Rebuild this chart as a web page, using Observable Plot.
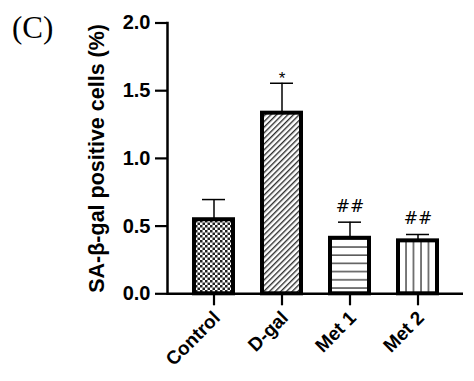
<!DOCTYPE html>
<html>
<head>
<meta charset="utf-8">
<script src="https://cdn.jsdelivr.net/npm/d3@7"></script>
<script src="https://cdn.jsdelivr.net/npm/@observablehq/plot@0.6"></script>
<style>
  html, body { margin: 0; padding: 0; background: #fff; }
  #wrap { position: relative; width: 474px; height: 381px; }
  #panel { position: absolute; left: 12px; top: 12px; font-family: "Liberation Serif", "Times New Roman", serif; font-size: 31px; line-height: 1; }
</style>
</head>
<body>
<div id="wrap"><div id="panel">(C)</div><div id="chart"></div></div>
<script>
const categories = ["Control", "D-gal", "Met 1", "Met 2"];
const means = [0.547, 1.334, 0.41, 0.391];
const errTops = [0.696, 1.555, 0.529, 0.438];
const marks = ["", "*", "##", "##"];
const patterns = ["p-check", "p-diag", "p-horiz", "p-vert"];
const yTicks = [0, 0.5, 1.0, 1.5, 2.0];
const yLabel = "SA-β-gal positive cells (%)";

const data = categories.map((c, i) => ({
  cat: c, mean: means[i], err: errTops[i], mark: marks[i], fill: `url(#${patterns[i]})`
}));

const font = "Liberation Sans, Arial, sans-serif";

const chart = Plot.plot({
  width: 474,
  height: 381,
  marginLeft: 167,
  marginRight: 11,
  marginTop: 22.5,
  marginBottom: 87.7,
  style: { fontFamily: font, background: "white", overflow: "visible" },
  x: { domain: categories, paddingInner: 0.37, paddingOuter: 0.35 },
  y: { domain: [0, 2] },
  color: { type: "identity" },
  marks: [
    Plot.barY(data, {
      x: "cat", y: "mean", fill: "fill",
      stroke: "black", strokeWidth: 4,
      insetLeft: 2, insetRight: 2
    }),
    Plot.ruleX(data, { x: "cat", y1: "mean", y2: "err", stroke: "black", strokeWidth: 1.5 }),
    Plot.tickY(data, { x: "cat", y: "err", stroke: "black", strokeWidth: 1.5, insetLeft: 10, insetRight: 10 }),
    Plot.text(data.filter(d => d.mark === "*"), {
      x: "cat", y: "err", text: "mark", fontSize: 17, dy: -5, fill: "black"
    }),
    Plot.text(data.filter(d => d.mark === "##"), {
      x: "cat", y: "err", text: "mark", fontSize: 17, dy: -16, fill: "black",
      fontFamily: "DejaVu Sans, sans-serif"
    }),
    Plot.axisY({
      ticks: yTicks, tickFormat: d3.format(".1f"), tickSize: 12, tickPadding: 5,
      strokeWidth: 2.2, fontSize: 20, fontWeight: "bold", label: null
    }),
    Plot.frame({ anchor: "left", strokeWidth: 2.5 }),
    Plot.ruleY([0], { strokeWidth: 2.5 }),
    Plot.axisX({
      tickSize: 12, strokeWidth: 2.2, tickRotate: -45, tickPadding: 5,
      fontSize: 19, fontWeight: "bold", label: null, text: null
    }),
    Plot.axisX({
      tickSize: 0, tickRotate: -45, tickPadding: 17, dx: 3, dy: 4,
      fontSize: 19, fontWeight: "bold", label: null
    }),
    Plot.text([yLabel], {
      frameAnchor: "left", textAnchor: "middle", dx: -70, dy: 0, rotate: -90,
      fontSize: 21.5, fontWeight: "bold", fill: "black"
    })
  ]
});

const svg = d3.select(chart);
const defs = svg.insert("defs", ":first-child");
// checkerboard
const pc = defs.append("pattern").attr("id", "p-check").attr("patternUnits", "userSpaceOnUse")
  .attr("width", 5).attr("height", 5);
pc.append("rect").attr("width", 5).attr("height", 5).attr("fill", "white");
pc.append("rect").attr("width", 2.5).attr("height", 2.5).attr("fill", "#222");
pc.append("rect").attr("x", 2.5).attr("y", 2.5).attr("width", 2.5).attr("height", 2.5).attr("fill", "#222");
// diagonal
const pd = defs.append("pattern").attr("id", "p-diag").attr("patternUnits", "userSpaceOnUse")
  .attr("width", 4).attr("height", 4).attr("patternTransform", "rotate(45)");
pd.append("rect").attr("width", 4).attr("height", 4).attr("fill", "white");
pd.append("line").attr("x1", 0.7).attr("y1", 0).attr("x2", 0.7).attr("y2", 4).attr("stroke", "#222").attr("stroke-width", 1.3);
// horizontal
const ph = defs.append("pattern").attr("id", "p-horiz").attr("patternUnits", "userSpaceOnUse")
  .attr("width", 10).attr("height", 8.2);
ph.append("rect").attr("width", 10).attr("height", 8.2).attr("fill", "white");
ph.append("line").attr("x1", 0).attr("y1", 1).attr("x2", 10).attr("y2", 1).attr("stroke", "#333").attr("stroke-width", 1.3);
// vertical
const pv = defs.append("pattern").attr("id", "p-vert").attr("patternUnits", "userSpaceOnUse")
  .attr("width", 7.5).attr("height", 10);
pv.append("rect").attr("width", 7.5).attr("height", 10).attr("fill", "white");
pv.append("line").attr("x1", 1).attr("y1", 0).attr("x2", 1).attr("y2", 10).attr("stroke", "#333").attr("stroke-width", 1.3);

document.getElementById("chart").appendChild(chart);
</script>
</body>
</html>
